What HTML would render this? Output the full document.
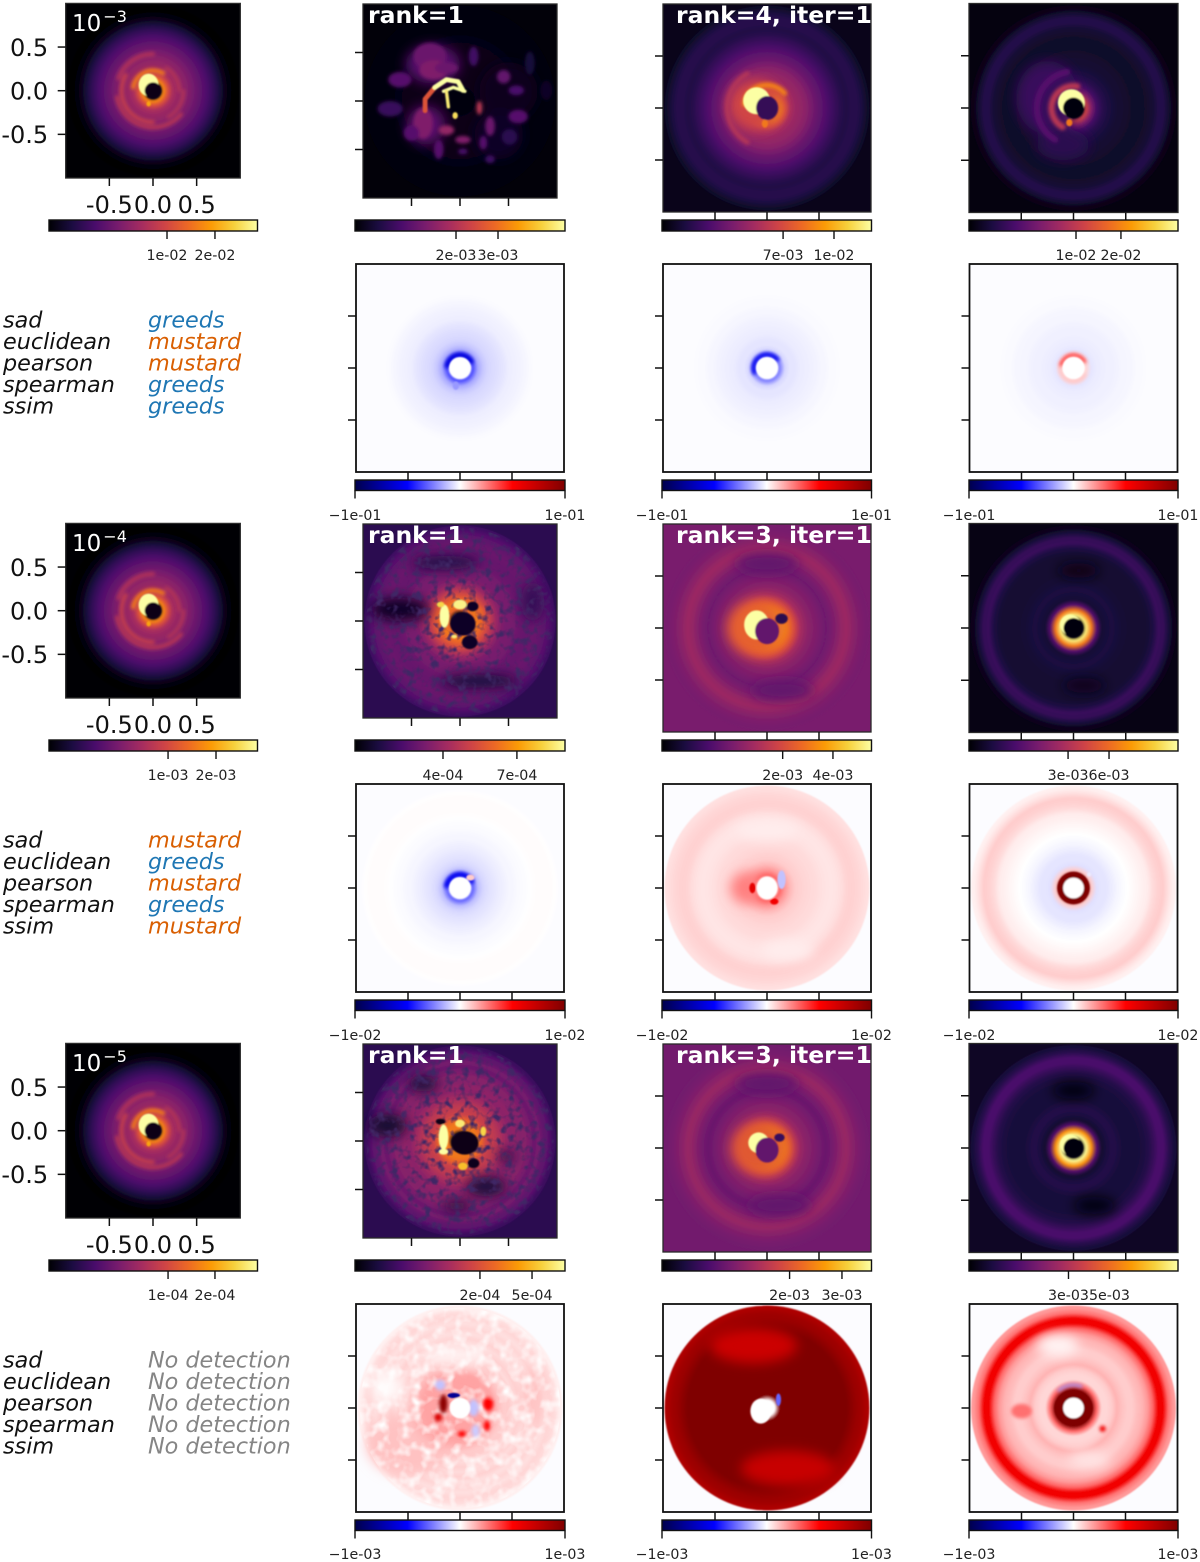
<!DOCTYPE html>
<html lang="en">
<head>
<meta charset="utf-8">
<title>Detection maps</title>
<style>
html,body{margin:0;padding:0;background:#fff;width:1200px;height:1562px;overflow:hidden}
svg{display:block;font-family:"DejaVu Sans","Liberation Sans",sans-serif}
</style>
</head>
<body>
<svg id="figure" xmlns="http://www.w3.org/2000/svg" width="1200" height="1562" viewBox="0 0 1200 1562">
<defs>
<filter id="blur-fine" filterUnits="userSpaceOnUse" x="0" y="0" width="1200" height="1562"><feGaussianBlur stdDeviation="0.8"/></filter>
<filter id="blur-mid" filterUnits="userSpaceOnUse" x="0" y="0" width="1200" height="1562"><feGaussianBlur stdDeviation="1.8"/></filter>
<filter id="blur-wide" filterUnits="userSpaceOnUse" x="0" y="0" width="1200" height="1562"><feGaussianBlur stdDeviation="6"/></filter>
<filter id="speckle-dark" x="0" y="0" width="100%" height="100%">
<feTurbulence type="fractalNoise" baseFrequency="0.13" numOctaves="2" seed="4"/>
<feColorMatrix values="0 0 0 0 0.05  0 0 0 0 0.02  0 0 0 0 0.13  3.4 0 0 0 -1.62"/>
<feComposite in2="SourceGraphic" operator="in"/>
</filter>
<filter id="speckle-light" x="0" y="0" width="100%" height="100%">
<feTurbulence type="fractalNoise" baseFrequency="0.09" numOctaves="2" seed="9"/>
<feColorMatrix values="0 0 0 0 1  0 0 0 0 1  0 0 0 0 1  2.4 0 0 0 -1.05"/>
<feComposite in2="SourceGraphic" operator="in"/>
</filter>
</defs>
</svg>
<script>
// ---- colour maps ----
const infernoStops = ['#000004','#1b0c41','#4a0c6b','#781c6d','#a52c60','#cf4446','#ed6925','#fb9b06','#f7d13d','#fcffa4'];
const seismicStops = ['#00004c','#0000ff','#ffffff','#ff0000','#7f0000'];

// ---- tick values and labels ----
const axisTicks = [-0.5, 0, 0.5];
const axisTickLabels = ['-0.5', '0.0', '0.5'];
const decades = ['−3', '−4', '−5'];
const metricNames = ['sad', 'euclidean', 'pearson', 'spearman', 'ssim'];
const verdictsRow0 = ['greeds', 'mustard', 'mustard', 'greeds', 'greeds'];
const verdictsRow1 = ['mustard', 'greeds', 'mustard', 'greeds', 'mustard'];
const verdictsRow2 = ['No detection', 'No detection', 'No detection', 'No detection', 'No detection'];
const rankTitlesRow0 = ['', 'rank=1', 'rank=4, iter=1', ''];
const rankTitlesRow1 = ['', 'rank=1', 'rank=3, iter=1', ''];
const rankTitlesRow2 = ['', 'rank=1', 'rank=3, iter=1', ''];
const cbarFractionsRow0 = [[0.566, 0.796], [0.481, 0.681], [0.578, 0.821], [0.512, 0.727]];
const cbarFractionsRow1 = [[0.571, 0.801], [0.419, 0.771], [0.576, 0.816], [0.474, 0.670]];
const cbarFractionsRow2 = [[0.571, 0.796], [0.595, 0.843], [0.609, 0.859], [0.476, 0.672]];
const cbarLabelsRow0 = [['1e-02', '2e-02'], ['2e-03', '3e-03'], ['7e-03', '1e-02'], ['1e-02', '2e-02']];
const cbarLabelsRow1 = [['1e-03', '2e-03'], ['4e-04', '7e-04'], ['2e-03', '4e-03'], ['3e-03', '6e-03']];
const cbarLabelsRow2 = [['1e-04', '2e-04'], ['2e-04', '5e-04'], ['2e-03', '3e-03'], ['3e-03', '5e-03']];
const residualLimits = ['1e-01', '1e-02', '1e-03'];

// ---- flux maps: radial brightness (20 rings, colour-norm units) ----
const fluxProfileCol0 = [.03,.03,.72,.58,.46,.42,.4,.38,.35,.32,.29,.26,.23,.19,.15,.1,.05,.015,0,0];
const fluxProfileR0C1 = [.01,.01,.02,.03,.03,.03,.03,.03,.03,.03,.03,.03,.025,.025,.02,.02,.015,.01,.01,.01];
const fluxProfileR0C2 = [.17,.17,.75,.6,.46,.42,.4,.38,.34,.3,.27,.24,.2,.17,.14,.12,.14,.14,.11,.07];
const fluxProfileR0C3 = [.02,.02,.55,.35,.2,.15,.12,.1,.085,.08,.075,.07,.07,.07,.075,.09,.13,.13,.08,.03];
const fluxProfileR1C1 = [.02,.02,.65,.7,.65,.58,.5,.42,.36,.33,.33,.32,.3,.29,.29,.3,.29,.27,.25,.2];
const fluxProfileR1C2 = [.28,.28,.85,.75,.65,.55,.45,.4,.37,.35,.33,.31,.33,.36,.4,.42,.39,.36,.34,.33];
const fluxProfileR1C3 = [.02,.02,.95,.7,.25,.09,.1,.11,.1,.09,.085,.08,.08,.08,.09,.12,.18,.17,.1,.04];
const fluxProfileR2C1 = [.02,.02,.7,.7,.65,.55,.52,.5,.46,.42,.38,.39,.36,.37,.34,.3,.33,.28,.26,.19];
const fluxProfileR2C2 = [.28,.28,.8,.72,.62,.5,.42,.38,.36,.34,.32,.3,.32,.35,.39,.41,.38,.35,.33,.32];
const fluxProfileR2C3 = [.02,.02,.98,.75,.25,.08,.11,.13,.12,.1,.1,.1,.1,.11,.13,.17,.22,.22,.15,.1];

// ---- flux maps: localised features [x, y, rx, ry, value, softness] in axis units ----
const fluxBlobsCol0 = [[-.05,.065,.115,.13,1],[-.05,-.15,.025,.03,.8],[0,0,.095,.095,.03]];
const fluxBlobsR0C1 = [[-.28,.38,.28,.2,.25,2],[-.35,-.25,.2,.2,.26,2],[.5,.1,.3,.3,.05,2],[.4,-.35,.25,.25,.06,2],[-.31,.46,.17,.14,.3,1],[-.27,.32,.15,.1,.35,1],[-.62,.22,.12,.08,.25,1],[-.14,.34,.12,.06,.3,1],[.14,.46,.05,.1,.2,1],[.45,.25,.07,.07,.28,1],[.58,.11,.08,.05,.22,1],[-.72,-.08,.13,.08,.18,1],[-.38,-.23,.1,.16,.35,1],[-.5,-.33,.08,.08,.25,1],[-.14,-.3,.08,.05,.4,1],[.03,-.4,.08,.04,.35,1],[-.22,-.5,.05,.1,.25,1],[.03,-.52,.05,.03,.22,1],[.2,-.07,.03,.07,.5,1],[.31,-.26,.05,.1,.3,1],[.24,-.43,.04,.07,.25,1],[.6,-.16,.1,.07,.25,1],[.51,-.37,.08,.08,.15,1],[.31,-.6,.05,.04,.2,1],[.72,.39,.05,.12,.1,1],[.89,.11,.06,.1,.06,1],[-.05,-.15,.028,.035,.92]];
const fluxBlobsR0C2 = [[-.12,.03,.25,.24,.56,2],[-.1,.07,.13,.13,1],[-.02,-.15,.03,.04,.7],[0,0,.105,.115,.17]];
const fluxBlobsR0C3 = [[-.25,.1,.3,.35,.18,2],[-.1,-.35,.25,.15,.15,2],[-.02,.05,.13,.13,1],[-.04,-.14,.03,.035,.7],[0,0,.1,.1,.02]];
const fluxBlobsR1C1 = [[-.62,.12,.3,.12,.06,2],[-.15,.6,.35,.07,.12,2],[.2,-.62,.4,.07,.1,2],[.75,.2,.12,.2,.17,2],[-.16,.05,.05,.12,1],[0,.17,.07,.05,.97],[-.2,.17,.04,.03,.9],[-.06,-.16,.03,.02,.95],[.2,.1,.04,.04,.65,1],[.03,-.03,.13,.12,.06],[.1,-.22,.08,.07,.06],[.13,.15,.06,.05,.06]];
const fluxBlobsR1C2 = [[0,.62,.3,.1,.28,2],[.15,-.6,.3,.1,.28,2],[-.1,0,.28,.26,.64,2],[-.1,.03,.12,.14,1],[0,-.03,.115,.125,.28],[.14,.09,.06,.05,.15]];
const fluxBlobsR1C3 = [[.05,.55,.2,.07,.03,2],[.1,-.55,.2,.07,.04,2],[-.03,.03,.1,.1,1],[0,0,.095,.095,.02]];
const fluxBlobsR2C1 = [[-.75,.16,.2,.12,.08,2],[-.38,.59,.15,.08,.1,2],[.27,-.47,.2,.1,.1,2],[-.03,-.67,.15,.05,.1,2],[.48,-.16,.08,.06,.12,2],[-.17,.04,.05,.13,1],[0,.18,.05,.04,.95],[.24,.1,.03,.05,.9],[-.17,-.11,.05,.03,1],[.03,-.26,.05,.04,.85],[.05,-.02,.14,.12,.03],[-.2,.2,.05,.03,.03],[.14,-.23,.06,.05,.05]];
const fluxBlobsR2C2 = [[0,.62,.3,.1,.28,2],[.12,-.55,.3,.1,.28,2],[-.08,0,.26,.24,.62,2],[-.08,.05,.1,.1,1],[0,-.02,.11,.12,.28],[.12,.1,.05,.04,.18]];
const fluxBlobsR2C3 = [[0,.55,.2,.08,.02,2],[.2,-.55,.2,.08,.02,2],[-.03,.03,.1,.1,1],[0,0,.095,.095,.02]];

// ---- flux maps: arcs [radius, fromDeg, toDeg, width, value] around the centre ----
const fluxArcsCol0 = [[.23,60,170,.05,.7],[.36,150,270,.04,.54],[.42,190,320,.04,.5],[.35,300,360,.03,.5],[.3,0,60,.03,.5],[.42,90,160,.05,.47]];
const fluxArcsR0C2 = [[.22,40,170,.05,.72],[.38,120,240,.05,.48]];
const fluxArcsR0C3 = [[.21,80,240,.06,.5],[.35,100,240,.06,.25]];
const fluxArcsNone = [];

// ---- flux map rank=1 strokes [value, width, points] ----
const fluxStrokesR0C1 = [[.6,.05,[[-.26,.14],[-.36,.02],[-.36,-.1]]],[1,.05,[[-.26,.14],[-.14,.22],[-.02,.2],[.03,.11]]],[1,.035,[[-.17,.1],[-.07,.14],[.05,.1]]],[.95,.035,[[-.14,.1],[-.12,-.06]]]];
const strokesNone = [];

// ---- residual maps: radial signed value (20 rings, -1..1) ----
const resProfileR0C1 = [0,0,-.35,-.17,-.11,-.08,-.07,-.06,-.05,-.035,-.03,-.025,-.02,-.012,-.006,-.006,-.006,-.006,-.006,-.006];
const resProfileR0C2 = [0,0,-.25,-.08,-.05,-.05,-.04,-.035,-.03,-.025,-.02,-.015,-.01,-.01,-.006,-.006,-.006,-.006,-.006,-.006];
const resProfileR0C3 = [0,0,.08,-.05,-.04,-.035,-.03,-.03,-.025,-.02,-.02,-.015,-.01,-.01,-.006,-.006,-.006,-.006,-.006,-.006];
const resProfileR1C1 = [0,0,-.3,-.13,-.08,-.06,-.05,-.04,-.03,-.02,-.015,-.01,-.006,-.002,.004,.006,.006,.006,.002,-.006];
const resProfileR1C2 = [0,0,.3,.2,.14,.1,.09,.08,.075,.07,.06,.055,.05,.055,.065,.085,.09,.085,.075,.06];
const resProfileR1C3 = [0,0,1,.1,-.06,-.05,-.05,-.035,-.02,-.01,0,.01,.02,.03,.04,.07,.09,.1,.06,.03];
const resProfileR2C1 = [0,0,.1,.15,.14,.16,.14,.1,.09,.1,.07,.09,.07,.09,.06,.08,.06,.08,.07,.03];
const resProfileR2C2 = [0,0,1,1,1,1,1,1,1,1,1,1,1,1,1,1,.95,.9,.87,.82];
const resProfileR2C3 = [0,0,1,1,.3,.08,.08,.1,.15,.12,.1,.1,.13,.15,.2,.3,.55,.55,.28,.2];

// ---- residual maps: features ----
const resBlobsR0C1 = [[-.04,-.17,.03,.04,-.2],[0,0,.105,.105,0]];
const resBlobsR0C2 = [[0,0,.105,.105,0]];
const resBlobsR0C3 = [[0,0,.105,.105,0]];
const resBlobsR1C1 = [[.1,.1,.04,.03,.1],[0,0,.105,.105,0]];
const resBlobsR1C2 = [[0,.55,.3,.1,.035,2],[.2,-.6,.25,.1,.035,2],[-.2,0,.15,.15,.25,2],[-.14,0,.03,.05,.6],[.07,-.13,.04,.03,.55],[.14,.08,.04,.09,-.12],[0,0,.1,.11,0]];
const resBlobsR1C3 = [[.15,.13,.02,.02,-.04],[0,0,.155,.155,1],[0,0,.1,.1,0]];
const resBlobsR2C1 = [[-.5,-.35,.4,.3,.12,2],[-.7,.2,.15,.15,.01,2],[-.05,.5,.3,.1,.03,2],[.7,.1,.1,.3,.12,2],[-.05,0,.4,.38,.18,2],[-.19,.22,.05,.05,-.12,1],[.13,0,.05,.08,-.12,1],[.15,-.22,.04,.06,-.1,1],[-.16,.04,.04,.09,.95,1],[-.21,-.09,.04,.04,.65,1],[.27,.04,.05,.07,.5,1],[.26,-.17,.03,.05,.5,1],[.02,-.25,.04,.03,.5,1],[-.06,.12,.06,.025,-.8],[0,0,.1,.1,0]];
const resBlobsR2C2 = [[-.13,.6,.42,.17,.7,2],[.2,-.58,.45,.17,.72,2],[.11,.08,.025,.06,-.3],[-.06,-.03,.1,.12,0]];
const resBlobsR2C3 = [[-.15,.6,.2,.1,.02,2],[.15,-.5,.2,.08,.05,2],[-.5,-.03,.1,.07,.28,1],[.28,-.2,.03,.03,.55,1],[0,0,.185,.17,1],[0,0,.1,.1,0]];
const resArcsR0C1 = [[.125,30,170,.05,-.6]];
const resArcsR0C2 = [[.13,40,200,.04,-.55]];
const resArcsR0C3 = [[.125,30,170,.03,.4],[.13,180,330,.025,.12]];
const resArcsR1C1 = [[.13,30,170,.05,-.55]];
const resArcsR1C2 = [];
const resArcsR1C3 = [];
const resArcsR2C1 = [[.3,20,90,.05,.18]];
const resArcsR2C2 = [];
const resArcsR2C3 = [[.22,70,130,.025,-.2]];

// ---- layout ----
const svg = document.getElementById('figure');
const NS = 'http://www.w3.org/2000/svg';
const rowOffsets = [0, 520, 1040];
const colCenters = [153, 460, 767, 1073.5];
const fluxHalf = [87.3, 97, 104, 104.5];
const fluxCenterY = [90.7, 101, 108, 108];
const cbarStart = [49, 355, 662, 969];
const cbarEnd = [257.5, 565, 871.5, 1178];
const discRadius = 0.985;

function make(tag, attrs, parent) {
  const n = document.createElementNS(NS, tag);
  for (const k in attrs) n.setAttribute(k, attrs[k]);
  (parent || svg).appendChild(n);
  return n;
}
function hexRgb(h) { return [1, 3, 5].map(i => parseInt(h.substr(i, 2), 16)); }
function sample(stops, t) {
  t = Math.max(0, Math.min(1, t));
  const f = t * (stops.length - 1), i = Math.min(stops.length - 2, Math.floor(f)), u = f - i;
  const a = hexRgb(stops[i]), b = hexRgb(stops[i + 1]);
  return 'rgb(' + a.map((v, k) => Math.round(v + (b[k] - v) * u)).join(',') + ')';
}
function fluxColor(v) { return sample(infernoStops, v); }
function residualColor(v) { return sample(seismicStops, (v + 1) / 2); }

function addGradient(id, stops) {
  const g = make('linearGradient', { id: id, x1: 0, x2: 1, y1: 0, y2: 0 }, svg.querySelector('defs'));
  stops.forEach((c, i) => make('stop', { offset: i / (stops.length - 1), 'stop-color': c }, g));
}
addGradient('inferno-grad', infernoStops);
addGradient('seismic-grad', seismicStops);

function drawText(parent, x, y, str, size, opts) {
  const t = make('text', Object.assign({ x: x, y: y, 'font-size': size, fill: '#111' }, opts || {}), parent);
  t.textContent = str;
  return t;
}
let panelCount = 0;

function drawPanel(name, p, color, bg, profile, arcs, blobs, strokes, frameColor, frameWidth, speckle) {
  const sx = u => p.cx + u * p.h;
  const sy = u => p.cy - u * p.h;
  const scale = u => u * p.h;
  const group = make('g', {});
  
  
  panelCount++;
  const clipId = 'clip-' + panelCount;
  const cp = make('clipPath', { id: clipId }, svg.querySelector('defs'));
  make('rect', { x: p.cx - p.h, y: p.cy - p.h, width: 2 * p.h, height: 2 * p.h }, cp);
  const clipped = make('g', { 'clip-path': 'url(#' + clipId + ')' }, group);
  const background = make('rect', { x: p.cx - p.h, y: p.cy - p.h, width: 2 * p.h, height: 2 * p.h, fill: color(bg) }, clipped);
  
  

  const gradId = 'radial-' + panelCount;
  const rg = make('radialGradient', { id: gradId }, svg.querySelector('defs'));
  make('stop', { offset: 0, 'stop-color': color(profile[0]) }, rg);
  profile.forEach((v, i) => make('stop', { offset: (i + 0.5) / profile.length, 'stop-color': color(v) }, rg));
  make('stop', { offset: 1, 'stop-color': color(profile[profile.length - 1]) }, rg);

  const image = make('g', { filter: 'url(#blur-fine)' }, clipped);
  const disc = make('circle', { cx: sx(0), cy: sy(0), r: scale(discRadius), fill: 'url(#' + gradId + ')' }, image);
  
  

  const wide = make('g', { filter: 'url(#blur-wide)' }, clipped);
  const mid = make('g', { filter: 'url(#blur-mid)' });
  const fine = make('g', { filter: 'url(#blur-fine)' });
  if (speckle) {
    const sp = make('circle', { cx: sx(0), cy: sy(0), r: scale(.965), fill: '#fff', filter: 'url(#' + speckle + ')' }, clipped);
    
    
  }
  clipped.appendChild(mid);
  clipped.appendChild(fine);

  arcs.forEach(a => {
    const r = scale(a[0]), a0 = a[1] * Math.PI / 180, a1 = a[2] * Math.PI / 180;
    const d = 'M' + (sx(0) + r * Math.cos(a0)) + ' ' + (sy(0) - r * Math.sin(a0)) +
      ' A' + r + ' ' + r + ' 0 ' + (a[2] - a[1] > 180 ? 1 : 0) + ' 0 ' +
      (sx(0) + r * Math.cos(a1)) + ' ' + (sy(0) - r * Math.sin(a1));
    const arc = make('path', { d: d, fill: 'none', stroke: color(a[4]), 'stroke-width': scale(a[3]), 'stroke-linecap': 'round' }, mid);
    
    
  });
  blobs.forEach(b => {
    const target = b[5] === 2 ? wide : (b[5] === 1 ? mid : fine);
    const blob = make('ellipse', { cx: sx(b[0]), cy: sy(b[1]), rx: scale(b[2]), ry: scale(b[3]), fill: color(b[4]) }, target);
    
    
  });
  strokes.forEach(s => {
    const line = make('polyline', { points: s[2].map(q => sx(q[0]) + ',' + sy(q[1])).join(' '), fill: 'none', stroke: color(s[0]), 'stroke-width': scale(s[1]), 'stroke-linecap': 'round', 'stroke-linejoin': 'round' }, fine);
    
    
  });
  const frame = make('rect', { x: p.cx - p.h, y: p.cy - p.h, width: 2 * p.h, height: 2 * p.h, fill: 'none', stroke: frameColor, 'stroke-width': frameWidth }, group);
  
  
  axisTicks.forEach(t => {
    const xt = make('line', { x1: sx(t), x2: sx(t), y1: p.cy + p.h, y2: p.cy + p.h + 8, stroke: '#111', 'stroke-width': 1.5 }, group);
    
    
    const yt = make('line', { x1: p.cx - p.h - 8, x2: p.cx - p.h, y1: sy(t), y2: sy(t), stroke: '#111', 'stroke-width': 1.5 }, group);
    
    
  });
  return { group, sx, sy };
}

function drawColorbar(name, col, top, height, gradient, fractions, labels, labelBaseline) {
  const x0 = cbarStart[col], x1 = cbarEnd[col];
  const cx = f => x0 + f * (x1 - x0);
  const g = make('g', {});
  
  
  const bar = make('rect', { x: x0, y: top, width: x1 - x0, height: height, fill: 'url(#' + gradient + ')', stroke: '#111', 'stroke-width': 1.4 }, g);
  
  
  fractions.forEach((f, i) => {
    const tick = make('line', { x1: cx(f), x2: cx(f), y1: top + height, y2: top + height + 8, stroke: '#111', 'stroke-width': 1.4 }, g);
    
    
    const lab = drawText(g, cx(f), labelBaseline, labels[i], 14.2, { 'text-anchor': 'middle', fill: '#222' });
    
    
  });
}

const fluxProfiles = [
  [fluxProfileCol0, fluxProfileR0C1, fluxProfileR0C2, fluxProfileR0C3],
  [fluxProfileCol0, fluxProfileR1C1, fluxProfileR1C2, fluxProfileR1C3],
  [fluxProfileCol0, fluxProfileR2C1, fluxProfileR2C2, fluxProfileR2C3]
];
const fluxBlobs = [
  [fluxBlobsCol0, fluxBlobsR0C1, fluxBlobsR0C2, fluxBlobsR0C3],
  [fluxBlobsCol0, fluxBlobsR1C1, fluxBlobsR1C2, fluxBlobsR1C3],
  [fluxBlobsCol0, fluxBlobsR2C1, fluxBlobsR2C2, fluxBlobsR2C3]
];
const fluxArcs = [
  [fluxArcsCol0, fluxArcsNone, fluxArcsR0C2, fluxArcsR0C3],
  [fluxArcsCol0, fluxArcsNone, fluxArcsNone, fluxArcsNone],
  [fluxArcsCol0, fluxArcsNone, fluxArcsNone, fluxArcsNone]
];
const fluxBackgrounds = [[0, .01, .04, .02], [0, .15, .335, .03], [0, .15, .32, .06]];
const resProfiles = [
  [resProfileR0C1, resProfileR0C2, resProfileR0C3],
  [resProfileR1C1, resProfileR1C2, resProfileR1C3],
  [resProfileR2C1, resProfileR2C2, resProfileR2C3]
];
const resBlobs = [
  [resBlobsR0C1, resBlobsR0C2, resBlobsR0C3],
  [resBlobsR1C1, resBlobsR1C2, resBlobsR1C3],
  [resBlobsR2C1, resBlobsR2C2, resBlobsR2C3]
];
const resArcs = [
  [resArcsR0C1, resArcsR0C2, resArcsR0C3],
  [resArcsR1C1, resArcsR1C2, resArcsR1C3],
  [resArcsR2C1, resArcsR2C2, resArcsR2C3]
];
const rankTitles = [rankTitlesRow0, rankTitlesRow1, rankTitlesRow2];
const cbarFractions = [cbarFractionsRow0, cbarFractionsRow1, cbarFractionsRow2];
const cbarLabels = [cbarLabelsRow0, cbarLabelsRow1, cbarLabelsRow2];
const verdicts = [verdictsRow0, verdictsRow1, verdictsRow2];
const verdictColors = { greeds: '#1f77b4', mustard: '#d95f02', 'No detection': '#858585' };

rowOffsets.forEach((dy, row) => {
  // flux maps
  colCenters.forEach((cx, col) => {
    const p = { cx: cx, cy: fluxCenterY[col] + dy, h: fluxHalf[col] };
    const strokes = (row === 0 && col === 1) ? fluxStrokesR0C1 : strokesNone;
    const speckle = (row > 0 && col === 1) ? 'speckle-dark' : null;
    const panel = drawPanel('flux-map-row' + (row + 1) + '-col' + (col + 1), p, fluxColor, fluxBackgrounds[row][col], fluxProfiles[row][col], fluxArcs[row][col], fluxBlobs[row][col], strokes, '#2a2a2a', 1.3, speckle);
    if (col === 0) {
      axisTicks.forEach((t, i) => {
        const yl = drawText(panel.group, p.cx - p.h - 17.5, panel.sy(t) + 8.7, axisTickLabels[i], 24, { 'text-anchor': 'end' });
        
        
        const xl = drawText(panel.group, panel.sx(t), 213 + dy, axisTickLabels[i], 24, { 'text-anchor': 'middle' });
        
        
      });
      const title = drawText(panel.group, 72, 31 + dy, '10', 23, { fill: '#fff' });
      const sup = make('tspan', { 'font-size': 16, dy: -9, dx: 2 }, title);
      sup.textContent = decades[row];
      
      
    }
    const rankText = rankTitles[row][col];
    if (rankText) {
      const tx = col === 1 ? 368 : 676;
      const rt = drawText(panel.group, tx, 23 + dy, rankText, 23.5, { fill: '#fff', 'font-weight': 'bold' });
      
      
    }
    drawColorbar('flux-colorbar-row' + (row + 1) + '-col' + (col + 1), col, 220 + dy, 11, 'inferno-grad', cbarFractions[row][col], cbarLabels[row][col], 260 + dy);
  });

  // residual maps
  [1, 2, 3].forEach((col, k) => {
    const p = { cx: colCenters[col], cy: 368 + dy, h: 104 };
    const speckle = (row === 2 && col === 1) ? 'speckle-light' : null;
    drawPanel('residual-map-row' + (row + 1) + '-col' + (col + 1), p, residualColor, -0.006, resProfiles[row][k], resArcs[row][k], resBlobs[row][k], strokesNone, '#111', 1.8, speckle);
    drawColorbar('residual-colorbar-row' + (row + 1) + '-col' + (col + 1), col, 480 + dy, 10.5, 'seismic-grad', [0, 1], ['−' + residualLimits[row], residualLimits[row]], 520 + dy - (row === 2 ? 1 : 0));
  });

  // metric legend
  const legend = make('g', { 'font-style': 'italic' });
  
  
  metricNames.forEach((m, i) => {
    const y = 327.5 + dy + i * 21.5;
    const name = drawText(legend, 3, y, m, 22.3, { fill: '#111' });
    
    
    const v = drawText(legend, 148, y, verdicts[row][i], 22.3, { fill: verdictColors[verdicts[row][i]] });
    
    
  });
});
</script>
</body>
</html>
